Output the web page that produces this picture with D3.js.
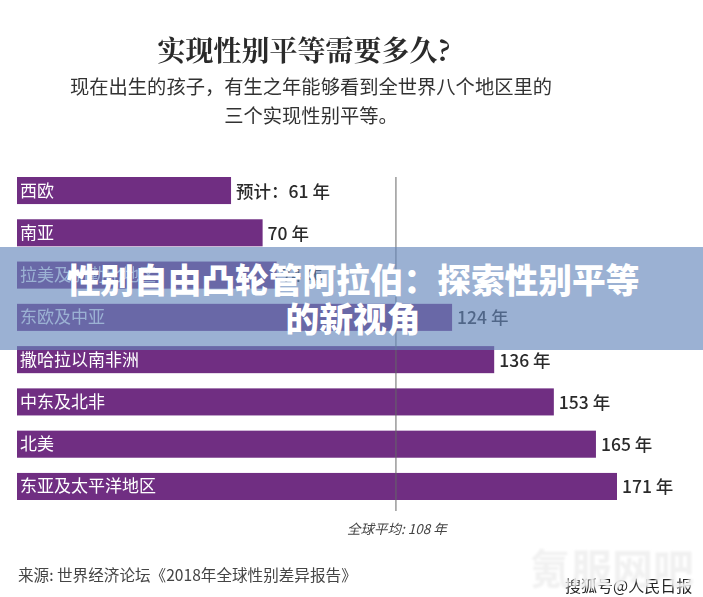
<!DOCTYPE html>
<html lang="zh">
  <head>
    <meta charset="UTF-8" />
    <title>实现性别平等需要多久?</title>
    <script src="https://d3js.org/d3.v7.min.js"></script>
    <style>
      html, body { margin: 0; padding: 0; background: #fff; overflow: hidden; }
      svg { display: block; font-family: "Noto Sans CJK SC", sans-serif; }
    </style>
  </head>
  <body>
    <svg width="703" height="597"></svg>
    <script>
      let regions = ["西欧", "南亚", "拉美及加勒比地区", "东欧及中亚", "撒哈拉以南非洲", "中东及北非", "北美", "东亚及太平洋地区"];
      let years = [61, 70, 74, 124, 136, 153, 165, 171];
      let valueLabels = ["预计\uFF1A61 年", "70 年", "74 年", "124 年", "136 年", "153 年", "165 年", "171 年"];
      let globalAverage = 108;
      let subtitleLines = ["现在出生的孩子\uFF0C有生之年能够看到全世界八个地区里的", "三个实现性别平等。"];
      let bannerLines = ["性别自由凸轮管阿拉伯\uFF1A探索性别平等", "的新视角"];

      let svg = d3.select("svg");
      let defs = svg.append("defs");
      defs.append("filter").attr("id", "soft").append("feGaussianBlur").attr("stdDeviation", 0.5);
      defs.append("filter").attr("id", "softer").append("feGaussianBlur").attr("stdDeviation", 1);

      let chart = svg.append("g").attr("filter", "url(#soft)");

      let xScale = d3.scaleLinear().domain([0, 171]).range([17, 617]);
      let yScale = d3.scaleBand().domain(regions).range([177, 500]).paddingInner(0.36).paddingOuter(0);

      // title block
      chart.append("text")
        .attr("x", 304).attr("y", 61)
        .attr("text-anchor", "middle")
        .attr("font-family", "'Noto Serif CJK SC', 'Noto Sans CJK SC', serif")
        .attr("font-weight", 700).attr("font-size", 28).attr("fill", "#2b2b2b")
        .text("实现性别平等需要多久?");

      chart.selectAll(".subtitle")
        .data(subtitleLines)
        .enter()
        .append("text")
        .attr("class", "subtitle")
        .attr("x", 311)
        .attr("y", (d, i) => 94 + i * 29)
        .attr("text-anchor", "middle")
        .attr("font-size", 19.3).attr("fill", "#333")
        .text((d) => d);

      // bars
      chart.selectAll(".bar")
        .data(regions)
        .enter()
        .append("rect")
        .attr("class", "bar")
        .attr("x", xScale(0))
        .attr("y", (d) => yScale(d))
        .attr("width", (d, i) => xScale(years[i]) - xScale(0))
        .attr("height", yScale.bandwidth())
        .attr("fill", "#6f2f82");

      chart.selectAll(".region")
        .data(regions)
        .enter()
        .append("text")
        .attr("class", "region")
        .attr("x", xScale(0) + 3)
        .attr("y", (d) => yScale(d) + yScale.bandwidth() / 2 + 6)
        .attr("font-size", 17).attr("fill", "#fff")
        .text((d) => d);

      chart.selectAll(".value")
        .data(valueLabels)
        .enter()
        .append("text")
        .attr("class", "value")
        .attr("x", (d, i) => xScale(years[i]) + 5)
        .attr("y", (d, i) => yScale(regions[i]) + yScale.bandwidth() / 2 + 7)
        .attr("font-size", 17.5).attr("font-weight", 500).attr("fill", "#2b2b2b")
        .text((d) => d);

      // global average line
      chart.append("line")
        .attr("x1", xScale(globalAverage)).attr("x2", xScale(globalAverage))
        .attr("y1", 177).attr("y2", 511)
        .attr("stroke", "#666").attr("stroke-width", 1);

      chart.append("text")
        .attr("x", xScale(globalAverage) + 1).attr("y", 534)
        .attr("text-anchor", "middle")
        .attr("font-size", 13.5).attr("font-style", "italic").attr("fill", "#444")
        .text("全球平均: " + globalAverage + " 年");

      chart.append("text")
        .attr("x", 18).attr("y", 581)
        .attr("font-size", 15.6).attr("fill", "#444")
        .text("来源: 世界经济论坛《2018年全球性别差异报告》");

      // banner over the chart
      svg.append("rect")
        .attr("x", 0).attr("y", 247).attr("width", 703).attr("height", 103)
        .attr("fill", "#6587bc").attr("fill-opacity", 0.65);

      svg.selectAll(".banner")
        .data(bannerLines)
        .enter()
        .append("text")
        .attr("class", "banner")
        .attr("x", 353)
        .attr("y", (d, i) => 293 + i * 39)
        .attr("text-anchor", "middle")
        .attr("font-size", 33.7).attr("font-weight", 900).attr("fill", "#fff")
        .text((d) => d);

      // watermark bottom right
      svg.append("text")
        .attr("x", 565).attr("y", 592)
        .attr("font-size", 16).attr("fill", "#222").attr("filter", "url(#soft)")
        .text("搜狐号@人民日报");

      svg.append("text")
        .attr("x", 530).attr("y", 584)
        .attr("font-size", 41).attr("font-weight", 700)
        .attr("fill", "#f0f0f0").attr("fill-opacity", 0.95).attr("filter", "url(#softer)")
        .text("氪服网吧");
    </script>
  </body>
</html>
